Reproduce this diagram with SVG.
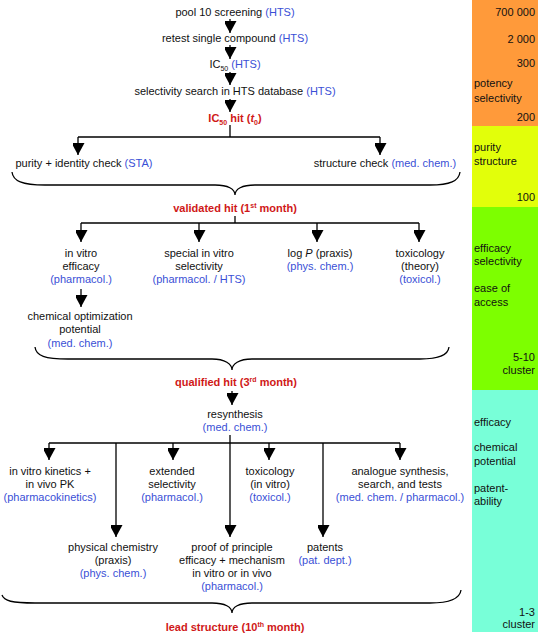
<svg xmlns="http://www.w3.org/2000/svg" width="539" height="635" viewBox="0 0 539 635">
<style>
text{font-family:"Liberation Sans",Arial,sans-serif;font-size:11px;fill:#111}
.c{text-anchor:middle}
.r{text-anchor:end}
.b{fill:#3a4fd6}
.red{fill:#d01818;font-weight:bold}
.ln{stroke:#000;stroke-width:1.3;fill:none}
.ar{stroke:#000;stroke-width:1.3;fill:none;marker-end:url(#ah)}
</style>
<defs>
<marker id="ah" viewBox="0 0 13 12" refX="12" refY="6.5" markerWidth="13" markerHeight="12" markerUnits="userSpaceOnUse" orient="auto"><path d="M0,0 L12,6.5 L0,13 z" fill="#000"/></marker>
</defs>
<g id="scale">
<rect x="472" y="0" width="66" height="126" fill="#ff9a3a"/>
<rect x="472" y="126" width="66" height="81" fill="#e2ff0a"/>
<rect x="472" y="207" width="66" height="183" fill="#7dff00"/>
<rect x="472" y="390" width="66" height="242" fill="#78ffd8"/>
<text class="r" x="535" y="16">700 000</text>
<text class="r" x="535" y="43">2 000</text>
<text class="r" x="535" y="67">300</text>
<text x="474" y="87">potency</text>
<text x="474" y="102">selectivity</text>
<text class="r" x="535" y="121">200</text>
<text x="474" y="151">purity</text>
<text x="474" y="165">structure</text>
<text class="r" x="535" y="201">100</text>
<text x="474" y="252">efficacy</text>
<text x="474" y="265">selectivity</text>
<text x="474" y="292">ease of</text>
<text x="474" y="306">access</text>
<text class="r" x="535" y="361">5-10</text>
<text class="r" x="535" y="374">cluster</text>
<text x="474" y="426">efficacy</text>
<text x="474" y="451">chemical</text>
<text x="474" y="465">potential</text>
<text x="474" y="492">patent-</text>
<text x="474" y="505">ability</text>
<text class="r" x="535" y="616">1-3</text>
<text class="r" x="535" y="628">cluster</text>
</g>
<g id="connectors">
<line class="ar" x1="230" y1="19" x2="230" y2="33"/>
<line class="ar" x1="230" y1="45" x2="230" y2="59"/>
<line class="ar" x1="230" y1="72" x2="230" y2="85"/>
<line class="ar" x1="230" y1="99" x2="230" y2="112"/>
<line class="ln" x1="230" y1="125" x2="230" y2="137"/>
<line class="ln" x1="78" y1="137" x2="380" y2="137"/>
<line class="ar" x1="78" y1="137" x2="78" y2="155"/>
<line class="ar" x1="380" y1="137" x2="380" y2="155"/>
<path class="ln" d="M12,172 C13,181 22,185 45,185 L215,185 C228,185 235,189 235,195 C235,189 242,185 255,185 L430,185 C450,185 459,181 460,172"/>
<line class="ln" x1="235" y1="216" x2="235" y2="223"/>
<line class="ln" x1="81" y1="223" x2="419" y2="223"/>
<line class="ar" x1="81" y1="223" x2="81" y2="242"/>
<line class="ar" x1="199" y1="223" x2="199" y2="242"/>
<line class="ar" x1="317" y1="223" x2="317" y2="242"/>
<line class="ar" x1="419" y1="223" x2="419" y2="242"/>
<line class="ar" x1="81" y1="289" x2="81" y2="307"/>
<path class="ln" d="M35,347 C36,356 45,359 68,359 L212,359 C225,359 232,364 232,370 C232,364 239,359 252,359 L420,359 C440,359 448,355 449,347"/>
<line class="ar" x1="232" y1="391" x2="232" y2="405"/>
<line class="ar" x1="230" y1="435" x2="230" y2="537"/>
<line class="ln" x1="49" y1="443" x2="400" y2="443"/>
<line class="ar" x1="49" y1="443" x2="49" y2="460"/>
<line class="ar" x1="116" y1="443" x2="116" y2="537"/>
<line class="ar" x1="173" y1="443" x2="173" y2="460"/>
<line class="ar" x1="269" y1="443" x2="269" y2="460"/>
<line class="ar" x1="323" y1="443" x2="323" y2="537"/>
<line class="ar" x1="400" y1="443" x2="400" y2="460"/>
<path class="ln" d="M2,595 C4,601 12,603 35,603 L212,603 C225,603 232,607 232,613 C232,607 239,603 252,603 L430,603 C450,603 460,598 461,590"/>
</g>
<g id="pool"><text class="c" x="235" y="16">pool 10 screening <tspan class="b">(HTS)</tspan></text></g>
<g id="retest"><text class="c" x="235" y="42">retest single compound <tspan class="b">(HTS)</tspan></text></g>
<g id="ic50"><text class="c" x="235" y="68">IC<tspan dy="3" font-size="7">50</tspan><tspan dy="-3" class="b"> (HTS)</tspan></text></g>
<g id="selsearch"><text class="c" x="235" y="95">selectivity search in HTS database <tspan class="b">(HTS)</tspan></text></g>
<g id="ic50hit"><text class="c red" x="235" y="122">IC<tspan dy="3" font-size="7">50</tspan><tspan dy="-3"> hit (</tspan><tspan font-style="italic">t</tspan><tspan dy="3" font-size="7">0</tspan><tspan dy="-3">)</tspan></text></g>
<g id="purity"><text class="c" x="84" y="167">purity + identity check <tspan class="b">(STA)</tspan></text></g>
<g id="structure"><text class="c" x="385" y="167">structure check <tspan class="b">(med. chem.)</tspan></text></g>
<g id="validated"><text class="c red" x="235" y="212">validated hit (1<tspan dy="-4" font-size="7">st</tspan><tspan dy="4"> month)</tspan></text></g>
<g id="invitro">
<text class="c" x="81" y="257">in vitro</text>
<text class="c" x="81" y="270">efficacy</text>
<text class="c b" x="81" y="283">(pharmacol.)</text>
</g>
<g id="special">
<text class="c" x="199" y="257">special in vitro</text>
<text class="c" x="199" y="270">selectivity</text>
<text class="c b" x="199" y="283">(pharmacol. / HTS)</text>
</g>
<g id="logp">
<text class="c" x="320" y="257">log <tspan font-style="italic">P</tspan> (praxis)</text>
<text class="c b" x="320" y="270">(phys. chem.)</text>
</g>
<g id="toxtheory">
<text class="c" x="420" y="257">toxicology</text>
<text class="c" x="420" y="270">(theory)</text>
<text class="c b" x="420" y="283">(toxicol.)</text>
</g>
<g id="chemopt">
<text class="c" x="80" y="320">chemical optimization</text>
<text class="c" x="80" y="333">potential</text>
<text class="c b" x="80" y="347">(med. chem.)</text>
</g>
<g id="qualified"><text class="c red" x="236" y="386">qualified hit (3<tspan dy="-4" font-size="7">rd</tspan><tspan dy="4"> month)</tspan></text></g>
<g id="resynthesis">
<text class="c" x="235" y="418">resynthesis</text>
<text class="c b" x="235" y="431">(med. chem.)</text>
</g>
<g id="kinetics">
<text class="c" x="50" y="475">in vitro kinetics +</text>
<text class="c" x="50" y="488">in vivo PK</text>
<text class="c b" x="50" y="501">(pharmacokinetics)</text>
</g>
<g id="extended">
<text class="c" x="172" y="475">extended</text>
<text class="c" x="172" y="488">selectivity</text>
<text class="c b" x="172" y="501">(pharmacol.)</text>
</g>
<g id="toxvitro">
<text class="c" x="270" y="475">toxicology</text>
<text class="c" x="270" y="488">(in vitro)</text>
<text class="c b" x="270" y="501">(toxicol.)</text>
</g>
<g id="analogue">
<text class="c" x="400" y="475">analogue synthesis,</text>
<text class="c" x="400" y="488">search, and tests</text>
<text class="c b" x="400" y="501">(med. chem. / pharmacol.)</text>
</g>
<g id="physchem">
<text class="c" x="113" y="551">physical chemistry</text>
<text class="c" x="113" y="564">(praxis)</text>
<text class="c b" x="113" y="577">(phys. chem.)</text>
</g>
<g id="proof">
<text class="c" x="232" y="551">proof of principle</text>
<text class="c" x="232" y="564">efficacy + mechanism</text>
<text class="c" x="232" y="577">in vitro or in vivo</text>
<text class="c b" x="232" y="590">(pharmacol.)</text>
</g>
<g id="patents">
<text class="c" x="325" y="551">patents</text>
<text class="c b" x="325" y="564">(pat. dept.)</text>
</g>
<g id="lead"><text class="c red" x="235" y="631">lead structure (10<tspan dy="-4" font-size="7">th</tspan><tspan dy="4"> month)</tspan></text></g>
</svg>
